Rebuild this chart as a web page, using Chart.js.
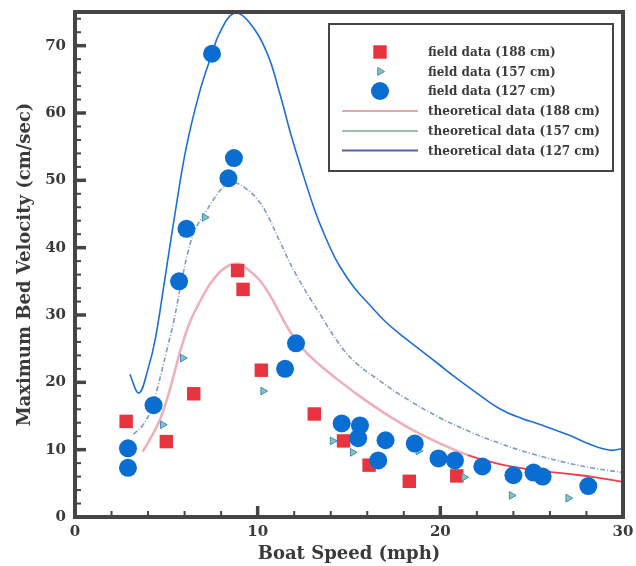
<!DOCTYPE html>
<html>
<head>
<meta charset="utf-8">
<script src="https://cdn.jsdelivr.net/npm/chart.js@4.4.0/dist/chart.umd.min.js"></script>
<style>
  body { margin: 0; background: #fff; }
</style>
</head>
<body>
<canvas id="grafico" width="636" height="566"></canvas>
<script>

// field data (boat speed in mph, bed velocity in cm/sec)
const field188Speed = [2.8, 5.0, 6.5, 8.9, 9.2, 10.2, 13.1, 14.7, 16.1, 18.3, 20.9]
const field188Vel = [14.2, 11.2, 18.3, 36.6, 33.8, 21.8, 15.3, 11.3, 7.7, 5.3, 6.1]

const field157Speed = [4.8, 5.9, 7.1, 10.3, 14.1, 15.2, 18.8, 21.3, 23.9, 27.0]
const field157Vel = [13.7, 23.6, 44.5, 18.7, 11.3, 9.6, 9.8, 5.9, 3.2, 2.8]

const field127Speed = [2.9, 2.9, 4.3, 5.7, 6.1, 7.5, 8.4, 8.7, 11.5, 12.1, 14.6, 15.6, 15.5, 17.0, 16.6, 18.6, 19.9, 20.8, 22.3, 24.0, 25.1, 25.6, 28.1]
const field127Vel = [10.2, 7.3, 16.6, 35.0, 42.8, 68.8, 50.3, 53.3, 22.0, 25.8, 13.9, 13.6, 11.7, 11.4, 8.4, 10.9, 8.7, 8.4, 7.5, 6.2, 6.6, 6.0, 4.6]

// theoretical curves
const theory188Speed = [3.7, 4.2, 4.7, 5.2, 5.8, 6.3, 6.9, 7.5, 8.2, 8.9, 9.4, 10.1, 10.7, 11.3, 11.9, 12.5, 13.3, 14.2, 15.5, 16.9, 18.5, 20.0, 21.5, 23.3, 25.0, 27.0, 28.5, 30.0]
const theory188Vel = [9.7, 12.0, 14.8, 19.0, 25.0, 29.0, 32.3, 35.0, 37.0, 37.6, 36.9, 35.2, 32.8, 29.8, 27.0, 24.9, 22.8, 20.8, 18.1, 15.5, 12.9, 10.9, 9.2, 7.8, 7.0, 6.4, 5.9, 5.2]

const theory157Speed = [3.2, 3.7, 4.1, 4.5, 5.0, 5.4, 5.8, 6.2, 6.6, 7.2, 7.8, 8.3, 8.7, 9.4, 10.1, 10.6, 11.2, 12.1, 13.4, 14.6, 15.5, 16.6, 18.0, 20.0, 21.5, 23.3, 25.0, 27.0, 28.5, 30.0]
const theory157Vel = [12.3, 13.6, 15.5, 19.0, 24.5, 29.0, 34.5, 39.5, 42.8, 45.5, 48.0, 49.4, 49.7, 48.7, 46.8, 44.5, 41.0, 36.0, 30.2, 25.2, 22.6, 20.4, 17.8, 14.7, 12.8, 10.9, 9.4, 8.0, 7.2, 6.6]

const theory127Speed = [3.0, 3.5, 4.0, 4.4, 4.9, 5.5, 6.1, 6.85, 7.5, 7.9, 8.7, 9.5, 10.5, 11.2, 11.8, 12.3, 13.2, 14.0, 14.5, 15.3, 16.1, 17.0, 18.0, 19.0, 20.0, 20.6, 22.0, 23.3, 24.5, 25.5, 27.0, 28.0, 28.8, 29.4, 30.0]
const theory127Vel = [21.2, 18.4, 22.0, 26.5, 35.0, 45.5, 55.0, 63.4, 68.8, 71.8, 74.8, 73.6, 69.0, 63.0, 57.0, 52.5, 45.0, 39.8, 37.2, 34.0, 31.6, 29.0, 26.7, 24.6, 22.5, 21.2, 18.4, 16.0, 14.6, 13.7, 12.2, 11.0, 10.2, 9.9, 10.2]

const xTicks = [0, 10, 20, 30]
const yTicks = [0, 10, 20, 30, 40, 50, 60, 70]

function puntos(xs, ys) {
    return xs.map(function (x, i) {
        return { x: x, y: ys[i] }
    })
}

const serif = 'DejaVu Serif'
const ink = '#3a3a3a'

// frame + inward ticks like the original plot
const marco = {
    id: 'marco',
    afterDraw(chart) {
        const { ctx, chartArea: a, scales: { x, y } } = chart
        ctx.save()
        ctx.strokeStyle = '#454545'
        ctx.lineCap = 'butt'

        for (let v = 0; v <= 30; v += 2) {
            let major = xTicks.includes(v)
            let px = x.getPixelForValue(v)
            ctx.lineWidth = major ? 3.5 : 2
            ctx.beginPath()
            ctx.moveTo(px, a.bottom)
            ctx.lineTo(px, a.bottom - (major ? 11 : 6))
            ctx.stroke()
        }
        for (let v = 0; v <= 74; v += 2) {
            let major = yTicks.includes(v)
            let py = y.getPixelForValue(v)
            ctx.lineWidth = major ? 3.5 : 2
            ctx.beginPath()
            ctx.moveTo(a.left, py)
            ctx.lineTo(a.left + (major ? 11 : 6), py)
            ctx.stroke()
        }

        ctx.lineWidth = 4
        ctx.strokeRect(a.left, a.top, a.right - a.left, a.bottom - a.top)
        ctx.restore()
    }
}

// boxed legend inside the plot, built from the datasets
const leyenda = {
    id: 'leyenda',
    afterDraw(chart) {
        const ctx = chart.ctx
        const bx = 329, by = 24, bw = 284, bh = 147
        ctx.save()
        ctx.fillStyle = '#fff'
        ctx.fillRect(bx, by, bw, bh)
        ctx.strokeStyle = '#444'
        ctx.lineWidth = 2
        ctx.strokeRect(bx, by, bw, bh)

        const rows = [52, 71.5, 91, 111, 131, 150.5]
        ctx.font = 'bold 12px "' + serif + '"'
        ctx.textBaseline = 'middle'
        chart.data.datasets.forEach(function (ds, i) {
            let ry = rows[i]
            if (ds.showLine) {
                ctx.strokeStyle = ds.legendColor || ds.borderColor
                ctx.lineWidth = 2
                ctx.setLineDash([])
                ctx.beginPath()
                ctx.moveTo(342, ry)
                ctx.lineTo(418, ry)
                ctx.stroke()
            } else {
                ctx.fillStyle = ds.backgroundColor
                ctx.strokeStyle = ds.borderColor
                ctx.lineWidth = ds.borderWidth || 0
                Chart.helpers.drawPoint(ctx, {
                    pointStyle: ds.pointStyle,
                    radius: ds.legendRadius,
                    rotation: ds.rotation || 0,
                    borderWidth: ds.borderWidth || 0
                }, 380, ry)
            }
            ctx.fillStyle = ink
            ctx.fillText(ds.label, 428, ry + 1)
        })
        ctx.restore()
    }
}

let canvas = document.getElementById('grafico').getContext('2d')
var chart = new Chart(canvas, {
    type: 'scatter',
    data: {
        datasets: [{
            label: 'field data (188 cm)',
            data: puntos(field188Speed, field188Vel),
            pointStyle: 'rect',
            pointRadius: 9.5,
            legendRadius: 9.5,
            backgroundColor: '#e8343f',
            borderColor: '#e8343f',
            borderWidth: 0,
            order: 2
        }, {
            label: 'field data (157 cm)',
            data: puntos(field157Speed, field157Vel),
            pointStyle: 'triangle',
            rotation: 90,
            pointRotation: 90,
            pointRadius: 4.5,
            legendRadius: 4.5,
            backgroundColor: '#8cc4a4',
            borderColor: '#3d8bd0',
            borderWidth: 1,
            order: 1
        }, {
            label: 'field data (127 cm)',
            data: puntos(field127Speed, field127Vel),
            pointStyle: 'circle',
            pointRadius: 9,
            legendRadius: 9,
            backgroundColor: '#0a6dd2',
            borderColor: '#0a6dd2',
            borderWidth: 0,
            order: 0
        }, {
            label: 'theoretical data (188 cm)',
            data: puntos(theory188Speed, theory188Vel),
            showLine: true,
            pointRadius: 0,
            borderWidth: 2.5,
            borderColor: 'rgba(226,120,140,0.6)',
            legendColor: 'rgba(220,130,150,0.7)',
            tension: 0.4,
            segment: {
                borderColor: ctx => ctx.p0.parsed.x >= 21 ? '#e8424f' : undefined,
                borderWidth: ctx => ctx.p0.parsed.x >= 21 ? 1.8 : undefined
            },
            order: 5
        }, {
            label: 'theoretical data (157 cm)',
            data: puntos(theory157Speed, theory157Vel),
            showLine: true,
            pointRadius: 0,
            borderWidth: 1.6,
            borderColor: '#7d9dc2',
            legendColor: '#9fbfaa',
            borderDash: [5, 2, 1, 2],
            tension: 0.4,
            order: 4
        }, {
            label: 'theoretical data (127 cm)',
            data: puntos(theory127Speed, theory127Vel),
            showLine: true,
            pointRadius: 0,
            borderWidth: 1.6,
            borderColor: '#1f6fd1',
            legendColor: '#5262ad',
            tension: 0.4,
            order: 3
        }]
    },
    options: {
        responsive: false,
        animation: false,
        layout: { padding: { top: 12, right: 13, bottom: 0, left: 0 } },
        plugins: {
            legend: { display: false },
            tooltip: { enabled: false }
        },
        scales: {
            x: {
                type: 'linear',
                min: 0,
                max: 30,
                grid: { display: false, drawTicks: false },
                border: { display: false },
                ticks: {
                    stepSize: 10,
                    maxRotation: 0,
                    padding: 6,
                    color: ink,
                    font: { family: serif, size: 15, weight: 'bold' },
                    callback: v => xTicks.includes(v) ? v : ''
                },
                title: {
                    display: true,
                    text: 'Boat Speed (mph)',
                    color: ink,
                    font: { family: serif, size: 18, weight: 'bold' },
                    padding: { top: 0, bottom: 1 }
                },
                afterFit: function (s) {
                    s.height = 49
                    s.paddingLeft = 0
                    s.paddingRight = 0
                }
            },
            y: {
                min: 0,
                max: 75,
                grid: { display: false, drawTicks: false },
                border: { display: false },
                ticks: {
                    stepSize: 10,
                    padding: 9,
                    color: ink,
                    font: { family: serif, size: 15, weight: 'bold' },
                    callback: v => yTicks.includes(v) ? v : ''
                },
                title: {
                    display: true,
                    text: 'Maximum Bed Velocity (cm/sec)',
                    color: ink,
                    font: { family: serif, size: 18, weight: 'bold' },
                    padding: { top: 15, bottom: 0 }
                },
                afterFit: function (s) {
                    s.width = 75
                    s.paddingTop = 0
                    s.paddingBottom = 0
                }
            }
        }
    },
    plugins: [marco, leyenda]
})
</script>
</body>
</html>
